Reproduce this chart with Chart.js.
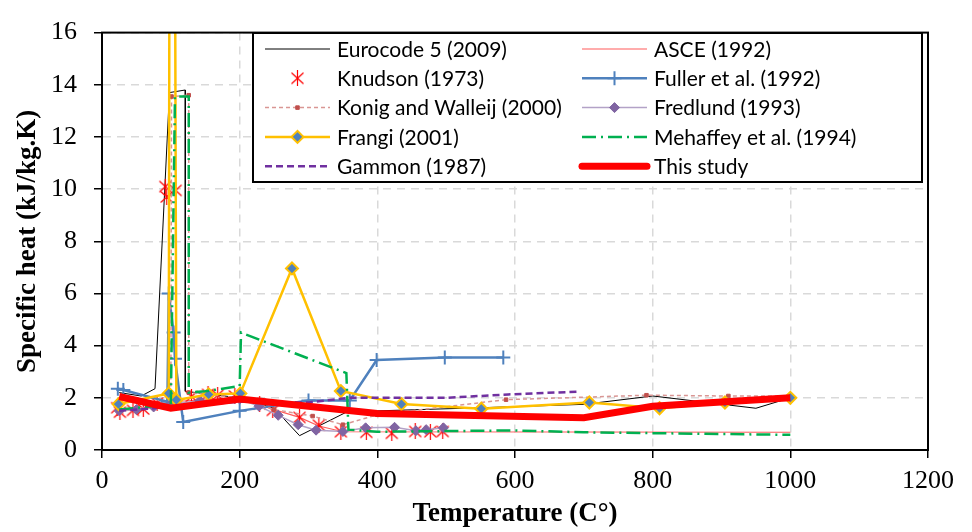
<!DOCTYPE html>
<html>
<head>
<meta charset="utf-8">
<script src="https://cdn.jsdelivr.net/npm/chart.js@4.4.0/dist/chart.umd.min.js"></script>
<style>
html, body { margin: 0; padding: 0; background: #fff; }
</style>
</head>
<body>
<canvas id="chart" width="972" height="532"></canvas>
<script>
// temperature (C) and specific heat (kJ/kg.K), one pair of arrays per source
const eurocodeT = [25, 57, 77, 98, 121, 121, 200, 250, 287, 355, 400, 550, 700, 800, 950, 1000];
const eurocodeC = [2.2, 2.07, 2.35, 13.7, 13.8, 2.25, 2.0, 1.6, 0.55, 1.45, 1.5, 1.62, 1.75, 2.07, 1.6, 2.0];

const asceT = [25, 60, 100, 200, 250, 287, 315, 350, 1000];
const asceC = [1.5, 1.55, 1.85, 2.0, 1.55, 1.25, 0.92, 0.7, 0.68];

const knudsonT = [22, 26, 45, 60, 80, 92, 94, 107, 130, 154, 168, 193, 229, 248, 287, 315, 347, 384, 421, 455, 477, 495];
const knudsonC = [1.62, 1.45, 1.52, 1.57, 1.8, 10.1, 9.7, 9.95, 2.05, 2.13, 2.1, 2.07, 1.76, 1.52, 1.25, 0.95, 0.7, 0.68, 0.64, 0.71, 0.7, 0.71];

const fullerT = [23, 31, 95, 97, 104, 106, 118, 200, 300, 360, 399, 498, 583];
const fullerC = [2.35, 2.3, 1.85, 6.0, 4.5, 3.5, 1.07, 1.5, 1.9, 1.9, 3.45, 3.55, 3.55];

const konigT = [25, 100, 101, 126, 126, 200, 250, 306, 350, 400, 587, 791, 910, 1000];
const konigC = [1.5, 1.75, 13.55, 13.6, 2.2, 2.0, 1.55, 1.3, 0.97, 1.35, 1.93, 2.1, 2.07, 2.07];

const fredlundT = [25, 50, 75, 100, 142, 200, 228, 256, 285, 311, 350, 383, 425, 456, 471, 496];
const fredlundC = [1.5, 1.55, 1.65, 1.75, 1.89, 1.95, 1.68, 1.33, 0.97, 0.76, 0.71, 0.85, 0.87, 0.74, 0.78, 0.85];

const frangiT = [24, 97, 98, 106, 108, 155, 201, 276, 347, 435, 551, 708, 810, 905, 1000];
const frangiC = [1.76, 2.17, 20, 20, 1.92, 2.13, 2.17, 6.96, 2.26, 1.76, 1.58, 1.82, 1.6, 1.82, 2.0];

const mehaffeyT = [25, 100, 106, 126, 126, 150, 200, 202, 345, 355, 358, 400, 600, 700, 1000];
const mehaffeyC = [1.55, 1.75, 13.55, 13.55, 2.2, 2.25, 2.45, 4.5, 3.05, 2.95, 0.78, 0.7, 0.75, 0.68, 0.58];

const gammonT = [25, 100, 200, 300, 360, 500, 590, 695];
const gammonC = [1.5, 1.65, 1.85, 1.82, 2.0, 2.0, 2.13, 2.24];

const studyT = [25, 100, 200, 400, 700, 800, 1000];
const studyC = [2.05, 1.6, 1.95, 1.4, 1.24, 1.68, 2.0];

const xTicks = [0, 200, 400, 600, 800, 1000, 1200];
const yTicks = [0, 2, 4, 6, 8, 10, 12, 14, 16];

const pts = (t, c) => t.map((x, i) => ({ x: x, y: c[i] }));

// asterisk marker (X with a vertical bar) like the Excel one
const star = document.createElement('canvas');
star.width = 15; star.height = 16;
(function () {
    const g = star.getContext('2d');
    g.strokeStyle = '#ff0000';
    g.lineWidth = 1.2;
    g.beginPath();
    g.moveTo(1.5, 2.5); g.lineTo(13.5, 13.5);
    g.moveTo(13.5, 2.5); g.lineTo(1.5, 13.5);
    g.moveTo(7.5, 0); g.lineTo(7.5, 16);
    g.stroke();
})();

const plain = (label, t, c, color, width, dash) => ({
    label: label,
    data: pts(t, c),
    borderColor: color,
    backgroundColor: color,
    borderWidth: width,
    borderDash: dash || [],
    pointRadius: 0,
    pointHoverRadius: 0
});

const datasets = [
    plain('Eurocode 5 (2009)', eurocodeT, eurocodeC, '#000000', 1),
    plain('ASCE (1992)', asceT, asceC, '#ff5b5b', 1.2),
    {
        label: 'Knudson (1973)',
        data: pts(knudsonT, knudsonC),
        showLine: false,
        borderColor: '#ff0000',
        pointStyle: star,
        pointRadius: 7,
        pointBorderWidth: 1
    },
    Object.assign(plain('Fuller et al. (1992)', fullerT, fullerC, '#4f81bd', 2.5), {
        pointStyle: 'cross', pointRadius: 7, pointBorderWidth: 2,
        pointBorderColor: '#4f81bd', pointBackgroundColor: '#4f81bd'
    }),
    Object.assign(plain('Konig and Walleij (2000)', konigT, konigC, '#d99694', 1.5, [4, 3]), {
        pointStyle: 'rect', pointRadius: 2.5, pointBorderWidth: 1,
        pointBorderColor: '#c0504d', pointBackgroundColor: '#c0504d'
    }),
    Object.assign(plain('Fredlund (1993)', fredlundT, fredlundC, '#b3a2c7', 1.5), {
        pointStyle: 'rectRot', pointRadius: 5, pointBorderWidth: 1,
        pointBorderColor: '#8064a2', pointBackgroundColor: '#8064a2'
    }),
    Object.assign(plain('Frangi (2001)', frangiT, frangiC, '#ffc000', 2.5), {
        pointStyle: 'rectRot', pointRadius: 6, pointBorderWidth: 2,
        pointBorderColor: '#ffc000', pointBackgroundColor: '#4f81bd'
    }),
    plain('Mehaffey et al. (1994)', mehaffeyT, mehaffeyC, '#00b050', 2.5, [14, 5, 2, 5]),
    plain('Gammon (1987)', gammonT, gammonC, '#7030a0', 2.5, [7, 4]),
    plain('This study', studyT, studyC, '#ff0000', 7)
];
// later series are drawn on top, like in Excel
datasets.forEach((ds, i) => { ds.order = -i; ds.tension = 0; });

const legendFont = '21px Lato';
const boxPlugin = {
    id: 'boxAndLegend',
    afterDraw(chart) {
        const { ctx, chartArea: a } = chart;
        ctx.save();
        ctx.strokeStyle = '#000';
        ctx.lineWidth = 2;
        ctx.strokeRect(a.left, a.top, a.right - a.left, a.bottom - a.top);

        // legend box, two columns
        const bx = 253, by = 33, bw = 669, bh = 149;
        ctx.fillStyle = '#fff';
        ctx.fillRect(bx, by, bw, bh);
        ctx.strokeRect(bx, by, bw, bh);
        chart.data.datasets.forEach((ds, i) => {
            const col = i % 2, row = Math.floor(i / 2);
            const y = 49 + row * 29.3;
            const x0 = col ? 582 : 265, x1 = x0 + 65;
            if (ds.showLine !== false) {
                ctx.beginPath();
                ctx.setLineDash(ds.borderDash || []);
                ctx.strokeStyle = ds.borderColor;
                ctx.lineWidth = ds.borderWidth;
                ctx.lineCap = ds.borderWidth > 3 ? 'round' : 'butt';
                ctx.moveTo(x0, y);
                ctx.lineTo(x1, y);
                ctx.stroke();
                ctx.setLineDash([]);
            }
            if (ds.pointRadius > 0) {
                ctx.fillStyle = ds.pointBackgroundColor || ds.borderColor;
                ctx.strokeStyle = ds.pointBorderColor || ds.borderColor;
                ctx.lineWidth = ds.pointBorderWidth;
                Chart.helpers.drawPoint(ctx, {
                    pointStyle: ds.pointStyle, radius: ds.pointRadius,
                    rotation: 0, borderWidth: ds.pointBorderWidth
                }, (x0 + x1) / 2, y);
            }
            ctx.fillStyle = '#000';
            ctx.font = legendFont;
            ctx.textAlign = 'left';
            ctx.textBaseline = 'middle';
            ctx.fillText(ds.label, x1 + 7, y + 1);
        });
        ctx.restore();
    }
};

const tickFont = { family: 'Liberation Serif', size: 26 };
const titleFont = { family: 'Liberation Serif', size: 27, weight: 'bold' };

new Chart(document.getElementById('chart'), {
    type: 'line',
    data: { datasets: datasets },
    options: {
        responsive: false,
        animation: false,
        events: [],
        layout: { padding: { top: 16, right: 44, left: 0, bottom: 0 } },
        plugins: { legend: { display: false }, tooltip: { enabled: false } },
        scales: {
            x: {
                type: 'linear',
                min: 0,
                max: 1200,
                afterFit: (s) => { s.height = 82; },
                afterBuildTicks: (s) => { s.ticks = xTicks.map(v => ({ value: v })); },
                ticks: { font: tickFont, color: '#000', padding: 8, callback: (v) => String(v) },
                grid: { color: '#d9d9d9', lineWidth: 1.5, tickLength: 8, tickColor: '#000', tickWidth: 1.5 },
                border: { color: '#000', width: 2, dash: [8, 6] },
                title: { display: true, text: 'Temperature (C°)', font: titleFont, color: '#000', padding: { top: 0, bottom: 2 } }
            },
            y: {
                min: 0,
                max: 16,
                afterFit: (s) => { s.width = 102; },
                afterBuildTicks: (s) => { s.ticks = yTicks.map(v => ({ value: v })); },
                ticks: { font: tickFont, color: '#000', padding: 17, callback: (v) => String(v) },
                grid: { color: '#d9d9d9', lineWidth: 1.5, tickLength: 8, tickColor: '#000', tickWidth: 1.5 },
                border: { color: '#000', width: 2, dash: [8, 6] },
                title: { display: true, text: 'Specific heat (kJ/kg.K)', font: titleFont, color: '#000', padding: { top: 12, bottom: 0 } }
            }
        }
    },
    plugins: [boxPlugin]
});
</script>
</body>
</html>
